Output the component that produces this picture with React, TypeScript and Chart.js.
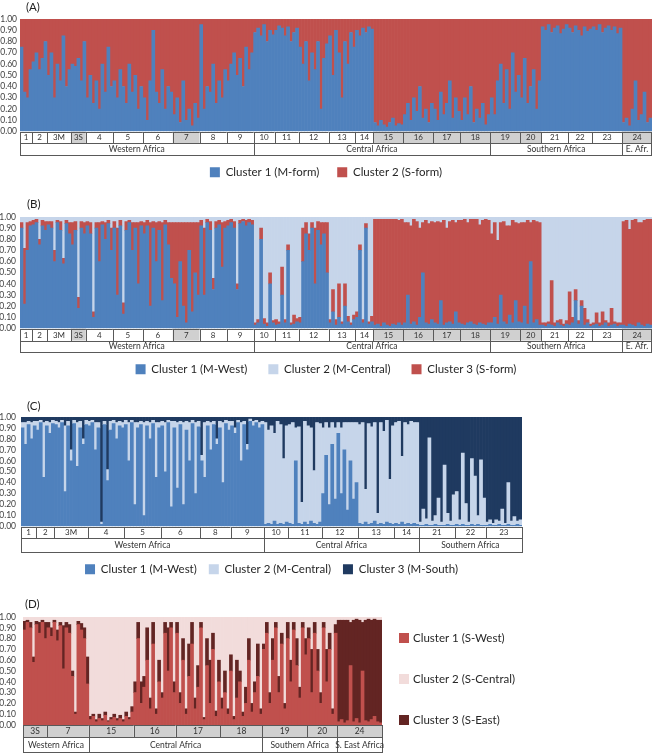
import React, { useEffect, useRef } from 'react';
import { Chart, registerables } from 'chart.js';

Chart.register(...registerables);

const FONT = 'Lato';
const BLUE = '#4F81BD';
const RED = '#C0504D';
const LIGHTBLUE = '#C6D5EA';
const NAVY = '#1F3A60';
const MAROON = '#632523';
const PINK = '#F2DCDB';
const GRAY = '#D0D0D0';
const LINE = '#595959';

const yTickLabels = ['0.00', '0.10', '0.20', '0.30', '0.40', '0.50', '0.60', '0.70', '0.80', '0.90', '1.00'];

// ---------- Panels A & B: populations ----------
const popsAB = ['1', '2', '3M', '3S', '4', '5', '6', '7', '8', '9', '10', '11', '12', '13', '14', '15', '16', '17', '18', '19', '20', '21', '22', '23', '24'];
const sizesAB = [4, 5, 8, 5, 9, 10, 10, 9, 9, 9, 7, 8, 10, 9, 6, 10, 10, 9, 10, 10, 7, 9, 8, 10, 10];
const shadedAB = ['3S', '7', '15', '16', '17', '18', '19', '20', '24'];
const regionsAB = ['Western Africa', 'Central Africa', 'Southern Africa', 'E. Afr.'];
const regionPopsAB = [10, 9, 5, 1];

// Panel A: Cluster 1 (M-form) membership, % (Cluster 2 is the remainder)
const mFormA = [
  75, 35, 30, 55,
  62, 70, 55, 65, 80,
  50, 70, 30, 60, 45, 85, 40, 55,
  60, 58, 65, 45, 80,
  30, 50, 25, 45, 20, 60, 35, 75, 40,
  45, 30, 55, 40, 25, 60, 35, 50, 20, 40,
  30, 10, 45, 90, 35, 25, 55, 20, 40, 35,
  15, 30, 8, 45, 10, 20, 5, 25, 12,
  95, 20, 40, 35, 60, 25, 45, 30, 55,
  45, 60, 70, 50, 65, 40, 75, 55, 70,
  88, 92, 85, 95, 80, 90, 86,
  90, 94, 92, 85, 93, 80, 88, 92,
  75, 60, 80, 45, 70, 55, 80, 20, 65, 78,
  85, 50, 90, 70, 30, 80, 60, 88, 75,
  90, 85, 92, 88, 93, 91,
  8, 5, 10, 6, 4, 8, 12, 5, 7, 6,
  15, 25, 10, 30, 18, 40, 12, 20, 8, 25,
  20, 10, 35, 15, 25, 45, 12, 30, 18,
  10, 30, 15, 40, 8, 20, 12, 25, 6, 15,
  30, 15, 45, 60, 25, 55, 20, 70, 35, 50,
  30, 65, 25, 40, 55, 20, 45,
  93, 90, 95, 88, 92, 94, 87, 91, 95,
  92, 88, 94, 90, 85, 93, 89, 91,
  93, 90, 95, 88, 92, 94, 90, 93, 87, 92,
  8, 12, 5, 20, 45, 10, 15, 35, 8, 12,
];

// Panel B: Cluster 1 (M-West) %, Cluster 3 (S-form) %; Cluster 2 (M-Central) is the remainder
const mWestB = [
  90, 22, 70, 92,
  93, 95, 75, 92, 88,
  93, 90, 60, 95, 88, 58, 94, 85,
  75, 88, 18, 90, 85,
  92, 85, 10, 90, 60, 93, 80, 94, 70,
  90, 30, 92, 13, 88, 95, 70, 90, 40, 92,
  85, 92, 20, 90, 60, 88, 25, 93, 75, 45,
  40, 10, 60, 20, 5, 70, 15, 50, 30,
  92, 30, 95, 88, 35, 90, 93, 55, 90,
  92, 95, 90, 35, 94, 96, 92, 95, 93,
  3, 5, 80, 4, 2, 40, 5,
  3, 4, 30, 5, 70, 3, 4, 6,
  5, 60, 85, 70, 90, 40, 88, 75, 85, 50,
  5, 15, 3, 10, 4, 20, 6, 3, 8,
  10, 70, 5, 90, 4, 6,
  3, 4, 2, 5, 3, 2, 4, 3, 5, 3,
  5, 30, 4, 6, 3, 10, 50, 5, 4, 8,
  5, 4, 25, 3, 5, 6, 4, 15, 5,
  4, 3, 5, 6, 4, 3, 5, 4, 3, 5,
  5, 10, 4, 30, 6, 4, 12, 5, 25, 6,
  5, 20, 4, 60, 5, 8, 3,
  3, 2, 4, 3, 2, 5, 3, 2, 4,
  3, 5, 25, 4, 20, 3, 5, 2,
  3, 4, 2, 3, 5, 2, 3, 4, 2, 3,
  3, 2, 4, 3, 2, 5, 3, 2, 4, 3,
];
const sFormB = [
  5, 50, 25, 4,
  4, 3, 5, 5, 8,
  3, 6, 10, 2, 8, 5, 3, 10,
  20, 8, 10, 6, 10,
  4, 10, 5, 5, 35, 3, 15, 3, 20,
  6, 60, 5, 10, 8, 2, 25, 5, 55, 4,
  10, 5, 75, 6, 35, 8, 70, 4, 20, 50,
  55, 85, 35, 75, 90, 25, 80, 45, 65,
  5, 60, 3, 8, 10, 6, 4, 40, 6,
  5, 3, 6, 5, 3, 2, 5, 3, 4,
  2, 3, 10, 5, 3, 10, 2,
  5, 2, 25, 3, 5, 2, 8, 3,
  5, 30, 10, 15, 5, 50, 8, 20, 10, 45,
  3, 20, 5, 30, 2, 20, 5, 2, 4,
  5, 5, 3, 4, 2, 5,
  95, 94, 96, 93, 95, 96, 94, 95, 92, 95,
  90, 65, 88, 92, 93, 80, 45, 92, 90, 88,
  90, 92, 70, 94, 85, 90, 93, 80, 92,
  93, 95, 90, 92, 94, 95, 88, 93, 95, 92,
  80, 85, 75, 65, 90, 88, 80, 92, 70, 88,
  90, 75, 93, 35, 92, 88, 92,
  2, 3, 2, 40, 3, 2, 5, 2, 3,
  30, 5, 10, 3, 5, 15, 3, 2,
  2, 10, 3, 12, 2, 3, 15, 2, 3, 2,
  93, 95, 85, 94, 96, 90, 92, 95, 94, 95,
];

// ---------- Panel C ----------
const popsC = ['1', '2', '3M', '4', '5', '6', '8', '9', '10', '11', '12', '13', '14', '21', '22', '23'];
const sizesC = [5, 6, 11, 12, 12, 13, 10, 11, 8, 11, 12, 12, 8, 12, 10, 12];
const shadedC: string[] = [];
const regionsC = ['Western Africa', 'Central Africa', 'Southern Africa'];
const regionPopsC = [8, 5, 3];
// Cluster 1 (M-West) %, Cluster 2 (M-Central) %; Cluster 3 (M-South) is the remainder
const mWestC = [
  90, 75, 93, 80, 92,
  88, 95, 45, 92, 85, 94,
  93, 90, 95, 32, 92, 60, 94, 55, 90, 75, 93,
  92, 95, 70, 90, 2, 93, 42, 88, 94, 80, 92, 90,
  93, 60, 95, 20, 90, 93, 10, 92, 80, 94, 45, 90,
  92, 50, 95, 18, 90, 35, 93, 20, 88, 60, 94, 30, 91,
  60, 45, 92, 70, 93, 75, 90, 40, 94, 88,
  92, 85, 95, 60, 93, 70, 96, 92, 95, 90, 93,
  2, 3, 2, 5, 2, 3, 2, 4,
  3, 2, 60, 3, 2, 4, 2, 5, 3, 2, 4,
  30, 65, 20, 75, 25, 85, 30, 70, 15, 60, 25, 40,
  3, 2, 4, 2, 3, 5, 2, 3, 2, 4, 3, 2,
  3, 2, 4, 2, 3, 2, 3, 2,
  1, 1, 2, 1, 1, 2, 1, 1, 1, 2, 1, 1,
  2, 1, 2, 1, 1, 2, 1, 2, 1, 1,
  1, 2, 1, 1, 2, 1, 1, 2, 1, 1, 2, 1,
];
const mCentralC = [
  5, 20, 3, 15, 4,
  8, 2, 50, 4, 10, 3,
  3, 5, 2, 60, 4, 10, 3, 40, 6, 5, 4,
  4, 2, 25, 5, 2, 3, 10, 8, 3, 15, 4, 5,
  4, 35, 2, 75, 5, 3, 85, 4, 15, 3, 50, 5,
  4, 45, 2, 78, 6, 60, 3, 75, 8, 35, 3, 65, 5,
  5, 50, 4, 25, 3, 5, 6, 55, 3, 8,
  4, 5, 2, 35, 3, 5, 2, 4, 2, 5, 3,
  93, 85, 90, 80, 94, 90, 60, 88,
  90, 93, 30, 88, 20, 92, 90, 85, 48, 93, 90,
  60, 30, 70, 20, 65, 10, 60, 25, 80, 35, 70, 55,
  90, 93, 30, 92, 88, 90, 10, 92, 85, 93, 40, 90,
  92, 94, 60, 93, 90, 94, 92, 93,
  3, 15, 5, 80, 4, 8, 25, 3, 55, 10, 4, 28,
  30, 5, 65, 20, 3, 60, 45, 8, 60, 25,
  3, 4, 2, 5, 3, 15, 2, 38, 4, 8, 3, 5,
];

// ---------- Panel D ----------
const popsD = ['3S', '7', '15', '16', '17', '18', '19', '20', '24'];
const sizesD = [8, 14, 15, 14, 15, 14, 15, 10, 15];
const shadedD = ['3S', '7', '15', '16', '17', '18', '19', '20', '24'];
const regionsD = ['Western Africa', 'Central Africa', 'Southern Africa', 'S. East Africa'];
const regionPopsD = [2, 4, 2, 1];
// Cluster 1 (S-West) %, Cluster 3 (S-East) %; Cluster 2 (S-Central) is the remainder
const sWestD = [
  88, 95, 90, 58, 93, 85, 95, 80,
  90, 82, 95, 78, 92, 52, 90, 85, 45, 10, 93, 88, 80, 38,
  5, 8, 3, 6, 4, 9, 3, 5, 7, 4, 6, 3, 8, 5, 12,
  30, 80, 20, 35, 60, 15, 75, 10, 40, 25, 85, 50, 90, 30,
  85, 20, 60, 10, 45, 75, 15, 35, 90, 5, 55, 20, 70, 8, 40,
  15, 30, 10, 50, 5, 25, 40, 8, 20, 60, 12, 30, 45, 10,
  70, 85, 20, 60, 90, 30, 75, 15, 80, 40, 88, 55, 25, 90, 65,
  80, 30, 85, 50, 20, 90, 40, 70, 10, 85,
  3, 5, 2, 4, 55, 3, 6, 2, 50, 4, 3, 5, 8, 3, 2,
];
const sEastD = [
  8, 2, 5, 5, 3, 10, 2, 15,
  5, 8, 2, 10, 3, 40, 5, 8, 5, 2, 3, 6, 10, 25,
  3, 2, 2, 4, 2, 3, 1, 2, 3, 2, 3, 2, 4, 2, 5,
  10, 15, 20, 10, 30, 10, 20, 5, 20, 5, 10, 40, 5, 10,
  10, 10, 20, 5, 30, 20, 10, 20, 5, 2, 25, 40, 15, 5, 20,
  10, 20, 5, 15, 3, 35, 10, 4, 15, 20, 8, 10, 30, 5,
  5, 10, 10, 20, 5, 15, 10, 5, 15, 20, 7, 25, 10, 5, 15,
  10, 40, 10, 20, 10, 5, 30, 15, 5, 8,
  94, 92, 95, 93, 40, 94, 92, 95, 45, 93, 95, 92, 90, 94, 95,
];

const remainder = (a: number[], b: number[]) => a.map((v, i) => Math.max(0, 100 - v - b[i]));
const individuals = (pops: string[], sizes: number[]) =>
  pops.flatMap((p, i) => Array.from({ length: sizes[i] }, (_, k) => `${p}-${k + 1}`));

type PanelCfg = {
  letter: string;
  top: number;
  height: number;
  padTop: number;
  padRight: number;
  yWidth: number;
  yPad: number;
  xHeight: number;
  rowH: [number, number];
  popFont: number;
  regionFont: number;
  pops: string[];
  sizes: number[];
  shaded: string[];
  regions: string[];
  regionPops: number[];
  datasets: { label: string; data: number[]; color: string }[];
  legend: null | { padding: number; fullSize: boolean };
  sideLegend?: { boxX: number; textX: number; ys: number[]; order: number[] };
  letterX: number;
  letterY: number;
};

function makeDecor(cfg: PanelCfg) {
  return {
    id: 'decor' + cfg.letter.replace(/[()]/g, ''),
    afterDraw(chart: any) {
      const { ctx, chartArea } = chart;
      const xs = chart.scales.x;
      const edge = (i: number) => xs.getPixelForValue(i - 0.5);
      const W = chart.width;
      const px = (v: number) => Math.min(Math.round(v), W - 1) + 0.5;
      ctx.save();
      ctx.font = `11.5px ${FONT}`;
      ctx.fillStyle = '#222';
      ctx.textAlign = 'left';
      ctx.textBaseline = 'middle';
      ctx.fillText(cfg.letter, cfg.letterX, cfg.letterY);

      const y0 = chartArea.bottom;
      const y1 = y0 + cfg.rowH[0];
      const y2 = y1 + cfg.rowH[1];
      const starts: number[] = [];
      let s = 0;
      cfg.pops.forEach((p, i) => {
        starts.push(s);
        const a = edge(s);
        const b = edge(s + cfg.sizes[i]);
        ctx.fillStyle = cfg.shaded.includes(p) ? GRAY : '#ffffff';
        ctx.fillRect(a, y0, b - a, y1 - y0);
        ctx.strokeStyle = LINE;
        ctx.lineWidth = 1;
        ctx.strokeRect(px(a), px(y0), px(b) - px(a), px(y1) - px(y0));
        ctx.fillStyle = '#333';
        ctx.font = `${cfg.popFont}px ${FONT}`;
        ctx.textAlign = 'center';
        ctx.fillText(p, (a + b) / 2, (y0 + y1) / 2 + 0.5);
        s += cfg.sizes[i];
      });
      starts.push(s);
      let pi = 0;
      cfg.regions.forEach((r, i) => {
        const a = edge(starts[pi]);
        pi += cfg.regionPops[i];
        const b = edge(starts[pi]);
        ctx.strokeStyle = LINE;
        ctx.strokeRect(px(a), px(y1), px(b) - px(a), px(y2) - px(y1));
        ctx.fillStyle = '#333';
        ctx.font = `${cfg.regionFont}px ${FONT}`;
        ctx.textAlign = 'center';
        ctx.fillText(r, (a + b) / 2, (y1 + y2) / 2 + 0.5);
      });

      if (cfg.sideLegend) {
        const sl = cfg.sideLegend;
        sl.order.forEach((di, k) => {
          const ds = chart.data.datasets[di];
          const y = sl.ys[k];
          ctx.fillStyle = ds.backgroundColor;
          ctx.fillRect(sl.boxX, y - 5, 10, 10);
          ctx.fillStyle = '#262626';
          ctx.font = `11.5px ${FONT}`;
          ctx.textAlign = 'left';
          ctx.fillText(ds.label, sl.textX, y + 0.5);
        });
      }
      ctx.restore();
    },
  };
}

function buildConfig(cfg: PanelCfg): any {
  return {
    type: 'bar',
    data: {
      labels: individuals(cfg.pops, cfg.sizes),
      datasets: cfg.datasets.map((d) => ({
        label: d.label,
        data: d.data,
        backgroundColor: d.color,
        borderWidth: 0,
        barPercentage: 1,
        categoryPercentage: 1,
      })),
    },
    options: {
      responsive: false,
      animation: false,
      events: [],
      layout: { padding: { top: cfg.padTop, right: cfg.padRight, left: 0, bottom: 0 } },
      scales: {
        x: {
          type: 'category',
          stacked: true,
          grid: { display: false, drawTicks: false },
          border: { display: false },
          ticks: { display: false },
          afterFit: (sc: any) => {
            sc.height = cfg.xHeight;
          },
        },
        y: {
          stacked: true,
          min: 0,
          max: 100,
          grid: { display: false, drawTicks: false },
          border: { display: false },
          ticks: {
            stepSize: 10,
            autoSkip: false,
            padding: cfg.yPad,
            color: '#404040',
            font: { family: FONT, size: 8.5 },
            callback: (_v: any, i: number) => yTickLabels[i],
          },
          afterFit: (sc: any) => {
            sc.width = cfg.yWidth;
          },
        },
      },
      plugins: {
        tooltip: { enabled: false },
        legend: cfg.legend
          ? {
              display: true,
              position: 'bottom',
              fullSize: cfg.legend.fullSize,
              labels: {
                boxWidth: 10,
                boxHeight: 10,
                padding: cfg.legend.padding,
                color: '#262626',
                font: { family: FONT, size: 11.5 },
                sort: (a: any, b: any) => a.text.localeCompare(b.text),
              },
            }
          : { display: false },
      },
    },
    plugins: [makeDecor(cfg)],
  };
}

const panels: PanelCfg[] = [
  {
    letter: '(A)', top: 0, height: 188, padTop: 19, padRight: 0, yWidth: 20, yPad: 3, xHeight: 17,
    rowH: [11.5, 11.5], popFont: 8, regionFont: 8.5,
    pops: popsAB, sizes: sizesAB, shaded: shadedAB, regions: regionsAB, regionPops: regionPopsAB,
    datasets: [
      { label: 'Cluster 1 (M-form)', data: mFormA, color: BLUE },
      { label: 'Cluster 2 (S-form)', data: mFormA.map((v) => 100 - v), color: RED },
    ],
    legend: { padding: 18, fullSize: true },
    letterX: 26, letterY: 7,
  },
  {
    letter: '(B)', top: 190, height: 195, padTop: 27, padRight: 0, yWidth: 20, yPad: 4, xHeight: 14,
    rowH: [12, 11], popFont: 8, regionFont: 8.5,
    pops: popsAB, sizes: sizesAB, shaded: shadedAB, regions: regionsAB, regionPops: regionPopsAB,
    datasets: [
      { label: 'Cluster 1 (M-West)', data: mWestB, color: BLUE },
      { label: 'Cluster 3 (S-form)', data: sFormB, color: RED },
      { label: 'Cluster 2 (M-Central)', data: remainder(mWestB, sFormB), color: LIGHTBLUE },
    ],
    legend: { padding: 21, fullSize: true },
    letterX: 27, letterY: 14,
  },
  {
    letter: '(C)', top: 385, height: 200, padTop: 32, padRight: 130, yWidth: 21, yPad: 5, xHeight: 25,
    rowH: [11, 14], popFont: 8, regionFont: 8.5,
    pops: popsC, sizes: sizesC, shaded: shadedC, regions: regionsC, regionPops: regionPopsC,
    datasets: [
      { label: 'Cluster 1 (M-West)', data: mWestC, color: BLUE },
      { label: 'Cluster 2 (M-Central)', data: mCentralC, color: LIGHTBLUE },
      { label: 'Cluster 3 (M-South)', data: remainder(mWestC, mCentralC), color: NAVY },
    ],
    legend: { padding: 12, fullSize: false },
    letterX: 27, letterY: 21.5,
  },
  {
    letter: '(D)', top: 590, height: 163, padTop: 27, padRight: 270, yWidth: 23, yPad: 7, xHeight: 28,
    rowH: [12, 15], popFont: 8.5, regionFont: 8.5,
    pops: popsD, sizes: sizesD, shaded: shadedD, regions: regionsD, regionPops: regionPopsD,
    datasets: [
      { label: 'Cluster 1 (S-West)', data: sWestD, color: RED },
      { label: 'Cluster 3 (S-East)', data: sEastD, color: MAROON },
      { label: 'Cluster 2 (S-Central)', data: remainder(sWestD, sEastD), color: PINK },
    ],
    legend: null,
    sideLegend: { boxX: 399, textX: 413, ys: [48, 89, 130], order: [0, 2, 1] },
    letterX: 25, letterY: 14,
  },
];

export default function App() {
  const r0 = useRef<HTMLCanvasElement>(null);
  const r1 = useRef<HTMLCanvasElement>(null);
  const r2 = useRef<HTMLCanvasElement>(null);
  const r3 = useRef<HTMLCanvasElement>(null);
  const refs = [r0, r1, r2, r3];

  useEffect(() => {
    const charts = panels.map((p, i) => new Chart(refs[i].current as HTMLCanvasElement, buildConfig(p)));
    return () => charts.forEach((c) => c.destroy());
  }, []);

  return (
    <div style={{ position: 'absolute', left: 0, top: 0, width: 652, height: 753, background: '#fff', overflow: 'hidden' }}>
      {panels.map((p, i) => (
        <canvas
          key={i}
          ref={refs[i]}
          width={652}
          height={p.height}
          style={{ position: 'absolute', left: 0, top: p.top, width: 652, height: p.height }}
        />
      ))}
    </div>
  );
}
